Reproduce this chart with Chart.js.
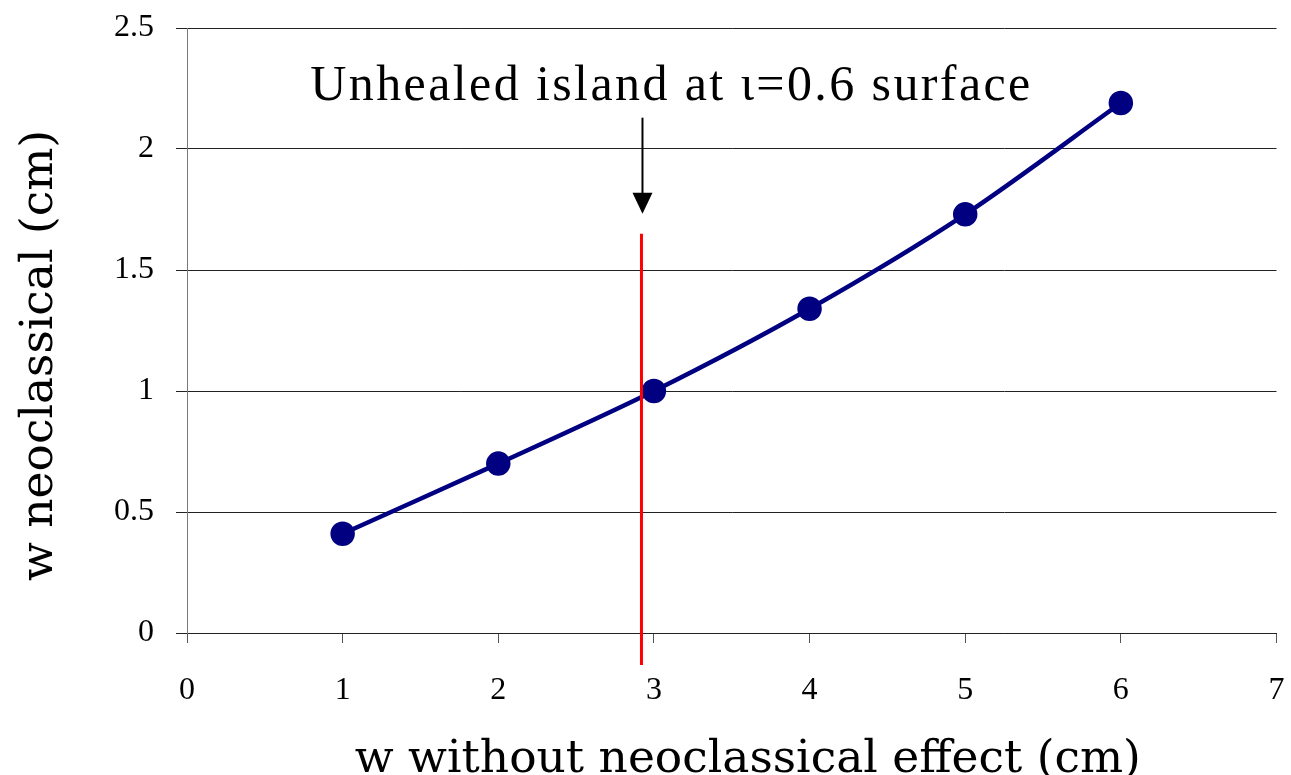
<!DOCTYPE html>
<html>
<head>
<meta charset="utf-8">
<script src="https://cdn.jsdelivr.net/npm/chart.js@4.4.1/dist/chart.umd.min.js"></script>
<style>
  html, body { margin: 0; padding: 0; background: #fff; }
  #wrap { width: 1291px; height: 775px; }
</style>
</head>
<body>
<div id="wrap"><canvas id="c"></canvas></div>
<script>
// data
const wWithout = [1, 2, 3, 4, 5, 6];
const wNeo = [0.41, 0.70, 1.00, 1.34, 1.73, 2.19];
const islandX = 2.92;   // unhealed island at iota = 0.6
const islandTop = 1.65; // top of the red marker line
const noteText = 'Unhealed island at \u03b9=0.6 surface';
const xTitle = 'w without neoclassical effect (cm)';
const yTitle = 'w neoclassical (cm)';

const titleFont = "'DejaVu Serif', serif";
const tickFont = "'Liberation Serif', 'Times New Roman', serif";

// red marker, arrow, note and the two axis titles
const islandMarker = {
    id: 'islandMarker',
    afterDatasetsDraw(chart) {
        const { ctx, chartArea, scales: { x, y } } = chart;
        const px = x.getPixelForValue(islandX);
        const top = y.getPixelForValue(islandTop);
        const bottom = y.bottom + 32;

        ctx.save();
        ctx.strokeStyle = '#ff0000';
        ctx.lineWidth = 3;
        ctx.beginPath();
        ctx.moveTo(px, top);
        ctx.lineTo(px, bottom);
        ctx.stroke();

        // arrow pointing down at the marker
        const ax = px + 1;
        ctx.strokeStyle = '#000';
        ctx.fillStyle = '#000';
        ctx.lineWidth = 2;
        ctx.beginPath();
        ctx.moveTo(ax, top - 116);
        ctx.lineTo(ax, top - 36);
        ctx.stroke();
        ctx.beginPath();
        ctx.moveTo(ax - 10, top - 41);
        ctx.lineTo(ax + 10, top - 41);
        ctx.lineTo(ax, top - 20);
        ctx.closePath();
        ctx.fill();

        ctx.font = '50px ' + tickFont;
        ctx.letterSpacing = '2.4px';
        ctx.textAlign = 'center';
        ctx.textBaseline = 'alphabetic';
        ctx.fillText(noteText, ax + 29, top - 134);
        ctx.letterSpacing = '0px';

        // axis titles
        ctx.font = '45.5px ' + titleFont;
        ctx.fillText(xTitle, (chartArea.left + chartArea.right) / 2 + 16, chartArea.bottom + 139);
        ctx.translate(52, (chartArea.top + chartArea.bottom) / 2 + 25);
        ctx.rotate(-Math.PI / 2);
        ctx.fillText(yTitle, 0, 0);
        ctx.restore();
    }
};

new Chart(document.getElementById('c'), {
    type: 'line',
    data: {
        datasets: [{
            label: 'w neoclassical',
            data: wWithout.map((v, i) => ({ x: v, y: wNeo[i] })),
            borderColor: '#000080',
            backgroundColor: '#000080',
            borderWidth: 4.5,
            pointRadius: 10,
            pointHoverRadius: 10,
            tension: 0.3,
        }],
    },
    options: {
        responsive: true,
        maintainAspectRatio: false,
        animation: false,
        layout: { padding: { top: 28, right: 13, left: 10, bottom: 0 } },
        plugins: {
            legend: { display: false },
            tooltip: { enabled: false },
        },
        scales: {
            x: {
                type: 'linear',
                min: 0,
                max: 7,
                ticks: {
                    stepSize: 1,
                    color: '#000',
                    padding: 28,
                    font: { family: tickFont, size: 32 },
                },
                grid: { drawOnChartArea: false, drawTicks: true, tickLength: 10, color: '#555' },
                border: { display: true, color: '#222', width: 1 },
                afterFit: (scale) => {
                    scale.height = 142;
                    scale.paddingLeft = 0;
                    scale.paddingRight = 0;
                },
            },
            y: {
                min: 0,
                max: 2.5,
                ticks: {
                    stepSize: 0.5,
                    color: '#000',
                    padding: 22,
                    font: { family: tickFont, size: 32 },
                    callback: (v) => String(v),
                },
                grid: { color: '#222', lineWidth: 1, tickLength: 11 },
                border: { display: true, color: '#777', width: 1 },
                afterFit: (scale) => {
                    scale.width = 177;
                    scale.paddingTop = 0;
                    scale.paddingBottom = 0;
                },
            },
        },
    },
    plugins: [islandMarker],
});
</script>
</body>
</html>
